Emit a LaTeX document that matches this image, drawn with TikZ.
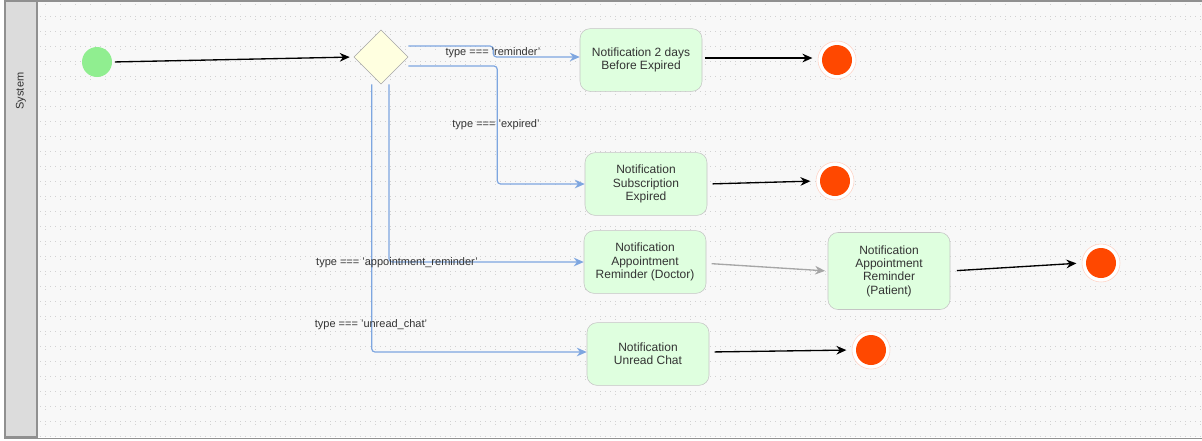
\documentclass[tikz,border=0pt]{standalone}
\usepackage{fontspec}
\setmainfont{Liberation Sans}
\usetikzlibrary{shapes.geometric,arrows.meta}

\definecolor{canvas}{HTML}{F8F8F8}
\definecolor{gridgray}{HTML}{D2D2D2}
\definecolor{lanegray}{HTML}{DCDCDC}
\definecolor{framegray}{HTML}{909090}
\definecolor{boxgreen}{HTML}{DFFFDF}
\definecolor{boxline}{HTML}{C4C4C4}
\definecolor{startgreen}{HTML}{90EE90}
\definecolor{decyellow}{HTML}{FFFFE0}
\definecolor{decline}{HTML}{A6A6A6}
\definecolor{endred}{HTML}{FF4800}
\definecolor{ringpink}{HTML}{FFD2C4}
\definecolor{flowblue}{HTML}{7EA6E0}
\definecolor{txtgray}{HTML}{333333}

\begin{document}
\begin{tikzpicture}[x=0.75pt,y=-0.75pt]
\tikzstyle{every node}+=[inner sep=0pt]
\tikzstyle{notif}=[draw=boxline,fill=boxgreen,rounded corners=7.5pt,minimum width=91.5pt,
  minimum height=47pt,align=center,font=\fontsize{9}{10}\selectfont,text=txtgray]
\tikzstyle{initial}=[circle,fill=startgreen,minimum size=22.5pt]
\tikzstyle{decision}=[diamond,aspect=1,draw=decline,fill=decyellow,minimum width=40.5pt,minimum height=40.5pt]
\tikzstyle{final}=[circle,draw=ringpink,fill=white,minimum size=28.5pt,
  path picture={\fill[endred] (path picture bounding box.center) circle (11.25pt);}]
\tikzstyle{trans}=[draw=black,line width=1pt,-{Stealth[length=7.5pt,width=6.5pt]}]
\tikzstyle{flow}=[draw=flowblue,line width=0.9pt,rounded corners=2.5pt,-{Stealth[length=7.5pt,width=6.5pt]}]
\tikzstyle{guard}=[font=\fontsize{8.25}{9}\selectfont,text=txtgray]

\useasboundingbox (0,0) rectangle (1202,440);
% pool and grid
\fill[canvas] (37,1) rectangle (1202,437);
\foreach \gy in {16,31,...,436}
  \draw[gridgray,line width=0.5pt,dash pattern=on 0.5pt off 3.25pt] (40,\gy) -- (1202,\gy);
\foreach \gx in {45,60,...,1200}
  \draw[gridgray,line width=0.5pt,dash pattern=on 0.5pt off 10.75pt] (\gx,4) -- (\gx,437);
\draw[framegray,line width=0.9pt] (5,1) rectangle (1203,438.5);
\draw[framegray,line width=0.9pt,fill=lanegray] (5,1) rectangle (37,437);
\node[rotate=90,font=\fontsize{8.25}{9}\selectfont,text=txtgray] (lane) at (21,91) {System};

% states
\node[initial] (start) at (97,62) {};
\node[decision] (dec) at (381,57) {};
\node[notif] (remind) at (641,60) {Notification 2 days\\Before Expired};
\node[notif] (expired) at (646,184) {Notification\\Subscription\\Expired};
\node[notif] (apptdoc) at (645,262) {Notification\\Appointment\\Reminder (Doctor)};
\node[notif] (chat) at (648,354) {Notification\\Unread Chat};
\node[notif,minimum height=57.75pt] (apptpat) at (889,271) {Notification\\Appointment\\Reminder\\(Patient)};
\node[final] (end1) at (837,60) {};
\node[final] (end2) at (835,181) {};
\node[final] (end3) at (1101,263) {};
\node[final] (end4) at (871,350) {};

% transitions
\draw[trans,shorten <=2pt,shorten >=3pt] (start.east) -- (dec.west);
\draw[flow] ([yshift=8.25pt]dec.east) -- ++(85,0) |- ([yshift=2.25pt]remind.west);
\draw[flow] ([yshift=-6.75pt]dec.east) -- ++(89,0) |- (expired.west);
\draw[flow] ([xshift=6pt]dec.south) |- (apptdoc.west);
\draw[flow] ([xshift=-7pt]dec.south) |- ([yshift=1.5pt]chat.west);
\draw[trans,shorten <=2pt,shorten >=4pt] ([yshift=1.5pt]remind.east) -- ([yshift=1.5pt]end1.west);
\draw[trans,shorten <=4pt,shorten >=4pt] (expired.east) -- (end2.west);
\draw[trans,draw=decline,-{Stealth[length=7.5pt,width=6.5pt,fill=decline]},shorten <=4pt,shorten >=2pt]
  ([yshift=-1pt]apptdoc.east) -- (apptpat.west);
\draw[trans,shorten <=5pt,shorten >=4pt] (apptpat.east) -- (end3.west);
\draw[trans,shorten <=4pt,shorten >=4pt] ([yshift=1.5pt]chat.east) -- (end4.west);

% guards
\node[guard] (gRemind) at (493,53) {type === 'reminder'};
\node[guard] (gExpired) at (496,125) {type === 'expired'};
\node[guard] (gAppt) at (397,263) {type === 'appointment\_reminder'};
\node[guard] (gChat) at (371,325) {type === 'unread\_chat'};
\end{tikzpicture}
\end{document}
